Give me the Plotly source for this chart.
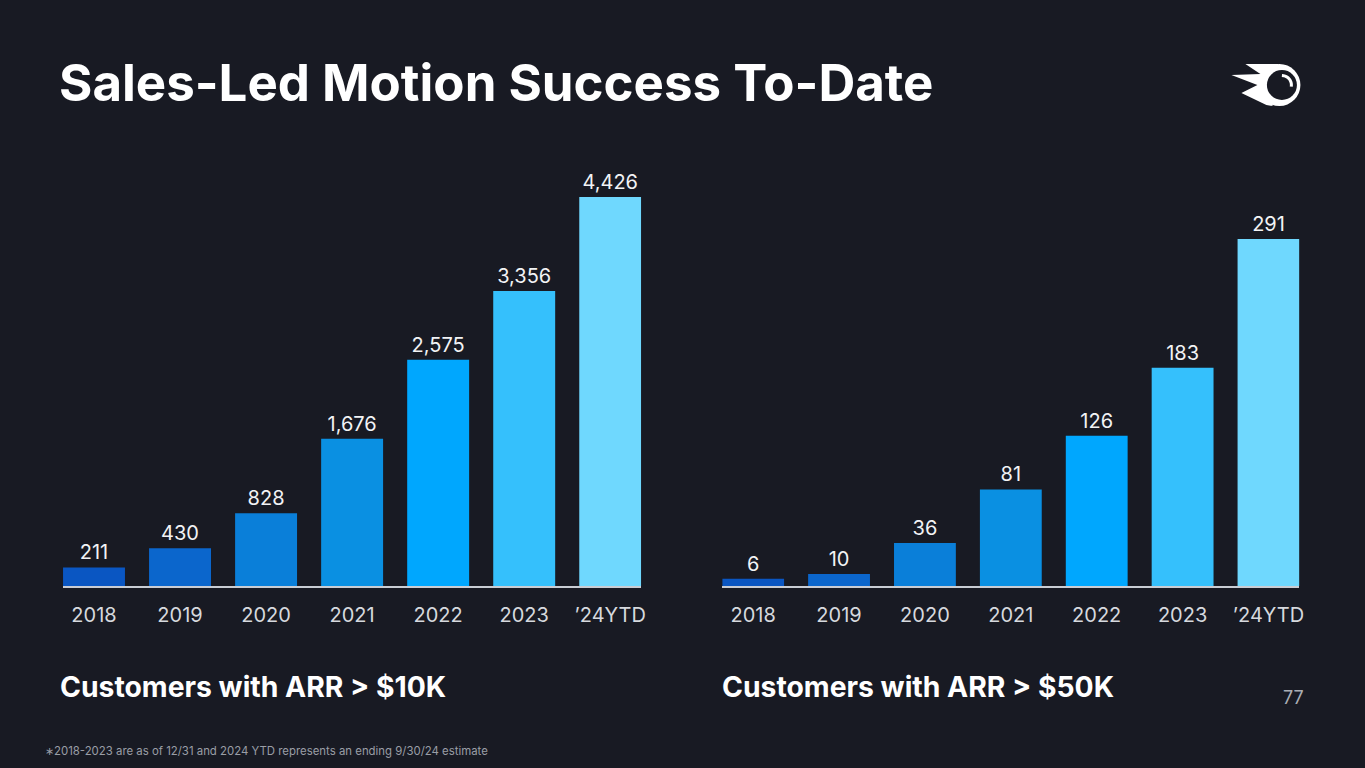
import math
import plotly.graph_objects as go

W, H = 1365, 768
BG = "#181a23"

categories = ["2018", "2019", "2020", "2021", "2022", "2023", "’24YTD"]
arr_10k = [211, 430, 828, 1676, 2575, 3356, 4426]
arr_50k = [6, 10, 36, 81, 126, 183, 291]
bar_colors = ["#0a56c2", "#0b66cc", "#0a7fd9", "#0a90e2", "#00a7fe", "#35c0fc", "#6fd8fe"]

title_text = "Sales-Led Motion Success To-Date"
left_caption = "Customers with ARR > $10K"
right_caption = "Customers with ARR > $50K"
footnote = "∗2018-2023 are as of 12/31 and 2024 YTD represents an ending 9/30/24 estimate"
page_no = "77"

FONT = "Inter"
SX = 1.004  # small horizontal correction


def px(x):
    return x * SX / W


def py(y):
    return 1 - y / H


fig = go.Figure()
for vals, xa, ya in [(arr_10k, "x", "y"), (arr_50k, "x2", "y2")]:
    fig.add_trace(go.Bar(
        x=categories, y=vals, xaxis=xa, yaxis=ya,
        marker=dict(color=bar_colors, line=dict(width=0)),
        texttemplate="%{y:,}", textposition="outside",
        textfont=dict(family=FONT, size=20, color="#f2f3f5"),
        cliponaxis=False, hoverinfo="skip", showlegend=False,
    ))

ydom = [py(586), py(150)]
axis_common = dict(
    type="category", range=[-0.36, 6.36], showgrid=False, zeroline=False,
    showline=True, linecolor="#c9cdd4", linewidth=2, ticks="",
    tickfont=dict(family=FONT, size=20, color="#d6d9de"), ticklabelstandoff=10,
    fixedrange=True,
)
yaxis_common = dict(showgrid=False, zeroline=False, showline=False,
                    showticklabels=False, ticks="", domain=ydom, fixedrange=True)

fig.update_layout(
    width=W, height=H,
    margin=dict(l=0, r=0, t=0, b=0),
    paper_bgcolor=BG, plot_bgcolor=BG,
    bargap=0.28,
    xaxis=dict(domain=[px(63), px(641)], anchor="y", **axis_common),
    xaxis2=dict(domain=[px(722), px(1299)], anchor="y2", **axis_common),
    yaxis=dict(range=[0, 4960], anchor="x", **yaxis_common),
    yaxis2=dict(range=[0, 365.6], anchor="x2", **yaxis_common),
)

annotations = [
    dict(text=title_text, x=px(57), y=py(83), xanchor="left", yanchor="middle",
         font=dict(family=FONT, size=51, color="#ffffff", weight=700)),
    dict(text=left_caption, x=px(58), y=py(687), xanchor="left", yanchor="middle",
         font=dict(family=FONT, size=28.3, color="#ffffff", weight=700)),
    dict(text=right_caption, x=px(720), y=py(687), xanchor="left", yanchor="middle",
         font=dict(family=FONT, size=28.3, color="#ffffff", weight=700)),
    dict(text=page_no, x=px(1306), y=py(697), xanchor="right", yanchor="middle",
         font=dict(family=FONT, size=18, color="#a9adb4")),
    dict(text=footnote, x=px(43), y=py(751), xanchor="left", yanchor="middle",
         font=dict(family=FONT, size=11.4, color="#9a9ea6")),
]
for a in annotations:
    a.update(xref="paper", yref="paper", showarrow=False)
fig.update_layout(annotations=annotations)


def pts(points):
    return " L ".join(f"{px(x):.5f},{py(y):.5f}" for x, y in points)


shapes = []
# flame part of the logo
flame = [(1245, 64), (1278, 64), (1272, 106), (1266, 105), (1241, 93),
         (1257, 85), (1231, 75), (1260, 74)]
shapes.append(dict(type="path", path="M " + pts(flame) + " Z", fillcolor="#ffffff",
                   line=dict(width=0)))
# outer white circle
cx, cy, r = 1279, 85, 21
shapes.append(dict(type="circle", x0=px(cx - r), x1=px(cx + r), y0=py(cy + r), y1=py(cy - r),
                   fillcolor="#ffffff", line=dict(width=0)))
# inner dark circle
cx2, cy2, r2 = 1281.5, 85, 15
shapes.append(dict(type="circle", x0=px(cx2 - r2), x1=px(cx2 + r2), y0=py(cy2 + r2), y1=py(cy2 - r2),
                   fillcolor=BG, line=dict(width=0)))
# highlight arc
arc = [(cx2 + 9.5 * math.cos(math.radians(a)), cy2 + 9.5 * math.sin(math.radians(a)))
       for a in range(-90, 11, 10)]
shapes.append(dict(type="path", path="M " + pts(arc), line=dict(color="#ffffff", width=3)))
for s in shapes:
    s.update(xref="paper", yref="paper", layer="above")
fig.update_layout(shapes=shapes)

fig.write_html("out.html", config={"displayModeBar": False, "staticPlot": True},
               post_script="document.body.style.margin='0';document.body.style.overflow='hidden';")
